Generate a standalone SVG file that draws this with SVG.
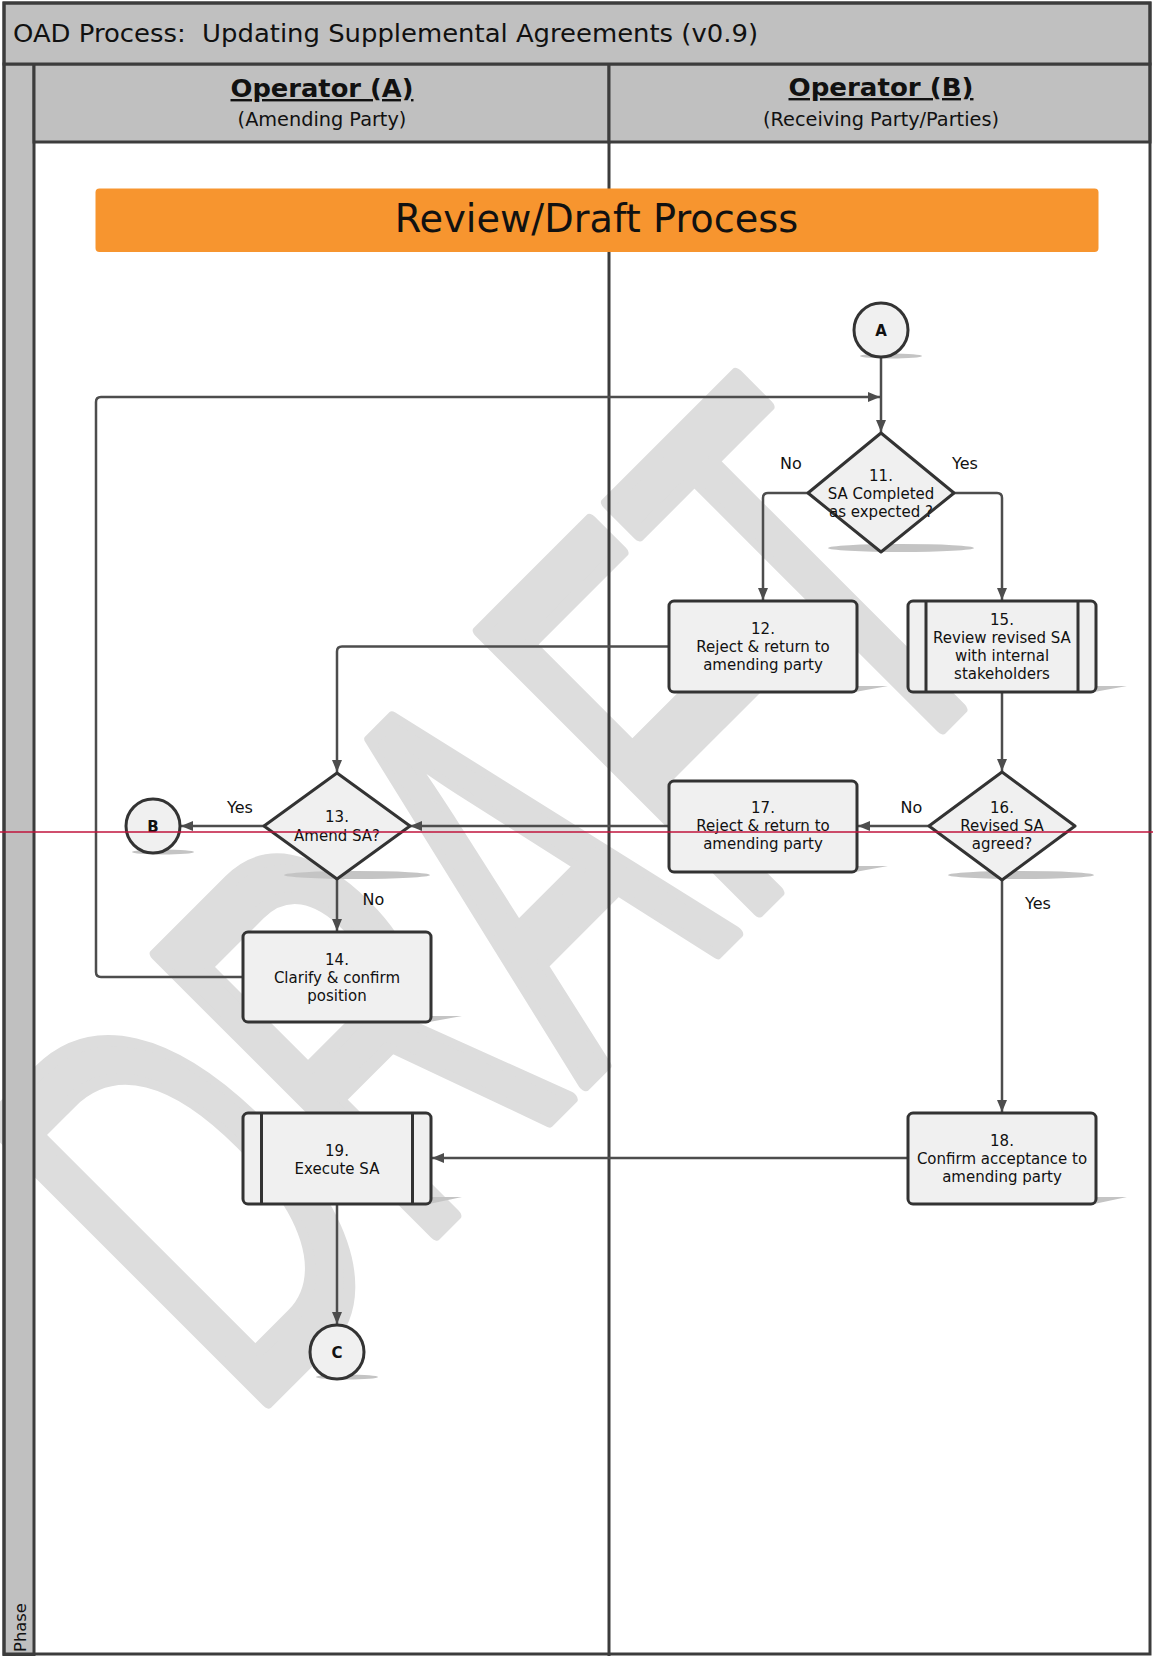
<svg xmlns="http://www.w3.org/2000/svg" width="1153" height="1656" viewBox="0 0 1153 1656">
<defs>
<marker id="arr" markerUnits="userSpaceOnUse" markerWidth="12" markerHeight="10" refX="12" refY="5" orient="auto"><path d="M0,0 L12,5 L0,10 z" fill="#4d4d4d"/></marker>
</defs>
<style>
.frame{fill:#c0c0c0;stroke:#3c3c3c;stroke-width:3}
.ln{stroke:#3c3c3c;stroke-width:3;fill:none}
.node{fill:#f0f0f0;stroke:#333333;stroke-width:3}
.sh{fill:#c4c4c4}
#connectors path{fill:none;stroke:#4d4d4d;stroke-width:2.5;marker-end:url(#arr)}
.t{font-family:"DejaVu Sans",Verdana,sans-serif;font-size:15px;fill:#111111;text-anchor:middle}
.lbl{font-family:"DejaVu Sans",Verdana,sans-serif;font-size:16px;fill:#111111;text-anchor:middle}
.cl{font-family:"DejaVu Sans",Verdana,sans-serif;font-size:15px;font-weight:bold;fill:#111111;text-anchor:middle}
.hd{font-family:"DejaVu Sans",Verdana,sans-serif;fill:#111111;text-anchor:middle}
</style>
<rect x="0" y="0" width="1153" height="1656" fill="#ffffff"/>
<g id="watermark">
<text transform="translate(247,1422) rotate(-45) scale(0.574,1)" font-family="Liberation Sans, Arial, sans-serif" font-size="573" fill="#dddddd" stroke="#dddddd" stroke-width="14" stroke-linejoin="round">DRAFT</text>
</g>
<g id="frame">
<rect class="frame" x="4" y="64" width="30" height="1592"/>
<rect class="frame" x="34" y="64" width="575" height="78"/>
<rect class="frame" x="609" y="64" width="541" height="78"/>
<rect class="frame" x="4" y="3" width="1146" height="61"/>
<line class="ln" x1="609" y1="142" x2="609" y2="1656"/>
<rect class="ln" x="4" y="3" width="1146" height="1651"/>
<text x="13" y="42" font-family="DejaVu Sans, Verdana, sans-serif" font-size="24.5" fill="#111111" textLength="745" lengthAdjust="spacingAndGlyphs">OAD Process:&#160; Updating Supplemental Agreements (v0.9)</text>
<text class="hd" x="322" y="97" font-size="24" font-weight="bold" text-decoration="underline" textLength="183" lengthAdjust="spacingAndGlyphs">Operator (A)</text>
<text class="hd" x="322" y="126" font-size="19.3">(Amending Party)</text>
<text class="hd" x="881" y="96" font-size="24" font-weight="bold" text-decoration="underline" textLength="185" lengthAdjust="spacingAndGlyphs">Operator (B)</text>
<text class="hd" x="881" y="126" font-size="19.3">(Receiving Party/Parties)</text>
<text transform="translate(25.5,1652) rotate(-90)" font-family="DejaVu Sans, Verdana, sans-serif" font-size="16.4" fill="#111111">Phase</text>
</g>
<g id="banner">
<rect x="95.5" y="188.5" width="1003" height="63.5" rx="4" fill="#f7952f"/>
<text class="hd" x="596.5" y="232" font-size="38.3">Review/Draft Process</text>
</g>
<g id="shadows">
<ellipse class="sh" cx="891" cy="356" rx="31" ry="2.5"/>
<ellipse class="sh" cx="901" cy="548" rx="73" ry="4"/>
<polygon class="sh" points="855,686 888,686 855,692"/>
<polygon class="sh" points="1094,686 1127,686 1094,692"/>
<ellipse class="sh" cx="1021" cy="875" rx="73" ry="4"/>
<polygon class="sh" points="855,866 888,866 855,872"/>
<ellipse class="sh" cx="357" cy="875" rx="73" ry="4"/>
<ellipse class="sh" cx="163" cy="852" rx="31" ry="2.5"/>
<polygon class="sh" points="429,1016 462,1016 429,1022"/>
<polygon class="sh" points="429,1197 462,1197 429,1204"/>
<polygon class="sh" points="1094,1197 1127,1197 1094,1204"/>
<ellipse class="sh" cx="347" cy="1377" rx="31" ry="2.5"/>
</g>
<g id="connectors">
<path d="M881,357 V432"/>
<path d="M243,977 H101 Q96,977 96,972 V402 Q96,397 101,397 H880"/>
<path d="M808,493 H768 Q763,493 763,498 V600"/>
<path d="M954,493 H997 Q1002,493 1002,498 V600"/>
<path d="M669,646.5 H342 Q337,646.5 337,651.5 V772"/>
<path d="M1002,692 V771"/>
<path d="M929,826 H858"/>
<path d="M669,826 H410"/>
<path d="M264,826 H181"/>
<path d="M337,879 V931"/>
<path d="M1002,879 V1112"/>
<path d="M908,1158 H432"/>
<path d="M337,1204 V1324"/>
</g>
<g id="labels">
<text class="lbl" x="791" y="469">No</text>
<text class="lbl" x="965" y="469">Yes</text>
<text class="lbl" x="240" y="813">Yes</text>
<text class="lbl" x="373.5" y="905">No</text>
<text class="lbl" x="911.5" y="813">No</text>
<text class="lbl" x="1038" y="909">Yes</text>
</g>
<g id="nodeA">
<circle class="node" cx="881" cy="330" r="27"/>
<text class="cl" x="881" y="335.5">A</text>
</g>
<g id="node11">
<path class="node" d="M881,433 L954,493 L881,552 L808,493 Z" stroke-linejoin="round"/>
<text class="t" x="881" y="480.5">11.</text>
<text class="t" x="881" y="498.5">SA Completed</text>
<text class="t" x="881" y="516.5">as expected ?</text>
</g>
<g id="node12">
<rect class="node" x="669" y="601" width="188" height="91" rx="5"/>
<text class="t" x="763" y="633.5">12.</text>
<text class="t" x="763" y="651.5">Reject &amp; return to</text>
<text class="t" x="763" y="669.5">amending party</text>
</g>
<g id="node15">
<rect class="node" x="908" y="601" width="188" height="91" rx="5"/>
<line class="node" x1="926" y1="601" x2="926" y2="692"/>
<line class="node" x1="1078" y1="601" x2="1078" y2="692"/>
<text class="t" x="1002" y="624.5">15.</text>
<text class="t" x="1002" y="642.5">Review revised SA</text>
<text class="t" x="1002" y="660.5">with internal</text>
<text class="t" x="1002" y="678.5">stakeholders</text>
</g>
<g id="node16">
<path class="node" d="M1002,772 L1075,826 L1002,880 L929,826 Z" stroke-linejoin="round"/>
<text class="t" x="1002" y="813">16.</text>
<text class="t" x="1002" y="831">Revised SA</text>
<text class="t" x="1002" y="849">agreed?</text>
</g>
<g id="node17">
<rect class="node" x="669" y="781" width="188" height="91" rx="5"/>
<text class="t" x="763" y="813">17.</text>
<text class="t" x="763" y="831">Reject &amp; return to</text>
<text class="t" x="763" y="849">amending party</text>
</g>
<g id="node13">
<path class="node" d="M337,773 L410,826 L337,879 L264,826 Z" stroke-linejoin="round"/>
<text class="t" x="337" y="822">13.</text>
<text class="t" x="337" y="840.5">Amend SA?</text>
</g>
<g id="nodeB">
<circle class="node" cx="153" cy="826" r="27"/>
<text class="cl" x="153" y="831.5">B</text>
</g>
<g id="node14">
<rect class="node" x="243" y="932" width="188" height="90" rx="5"/>
<text class="t" x="337" y="964.5">14.</text>
<text class="t" x="337" y="982.5">Clarify &amp; confirm</text>
<text class="t" x="337" y="1000.5">position</text>
</g>
<g id="node18">
<rect class="node" x="908" y="1113" width="188" height="91" rx="5"/>
<text class="t" x="1002" y="1145.5">18.</text>
<text class="t" x="1002" y="1163.5">Confirm acceptance to</text>
<text class="t" x="1002" y="1181.5">amending party</text>
</g>
<g id="node19">
<rect class="node" x="243" y="1113" width="188" height="91" rx="5"/>
<line class="node" x1="261.5" y1="1113" x2="261.5" y2="1204"/>
<line class="node" x1="412.5" y1="1113" x2="412.5" y2="1204"/>
<text class="t" x="337" y="1155.5">19.</text>
<text class="t" x="337" y="1173.5">Execute SA</text>
</g>
<g id="nodeC">
<circle class="node" cx="337" cy="1352" r="27"/>
<text class="cl" x="337" y="1357.5">C</text>
</g>
<line x1="0" y1="832" x2="1153" y2="832" stroke="#c0143c" stroke-width="1.5"/>
</svg>
